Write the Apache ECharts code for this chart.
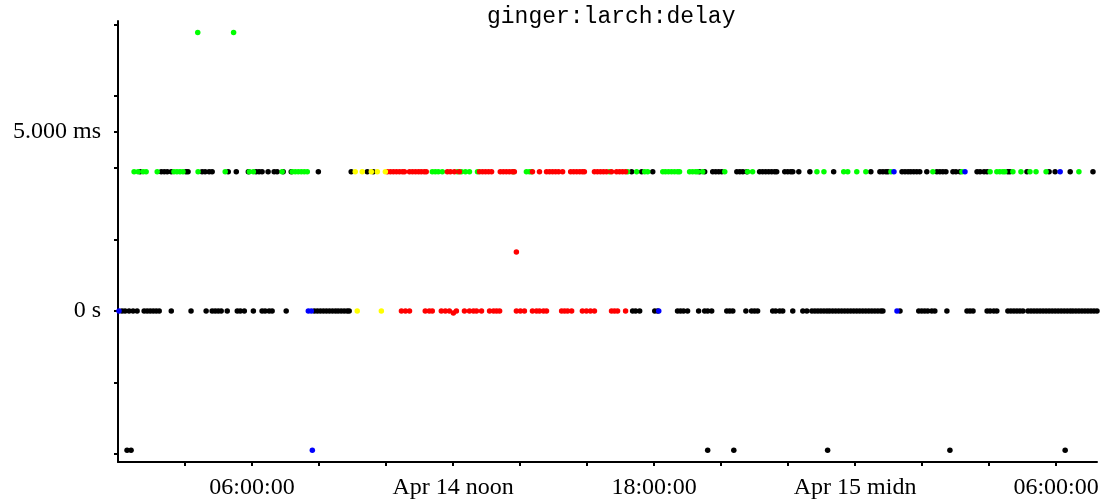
<!DOCTYPE html>
<html>
<head>
<meta charset="utf-8">
<title>ginger:larch:delay</title>
<script src="https://cdn.jsdelivr.net/npm/echarts@6/dist/echarts.min.js"></script>
<style>
  html, body { margin: 0; padding: 0; background: #fff; }
  #chart { width: 1102px; height: 503px; }
</style>
</head>
<body>
<div id="chart"></div>
<script>
// times are hours since Apr 14 00:00, delays are in ms
var upperRow = 3.89;
var zeroRow = 0;
var lowerRow = -3.89;

var blackUpper = [2.66, 3.29, 3.38, 3.47, 3.59, 4.03, 4.09, 4.51, 4.60, 4.72, 4.81, 5.29, 5.53, 5.89,
  6.12, 6.21, 6.30, 6.48, 6.66, 6.75, 6.93, 7.17, 7.98, 8.96, 9.44, 9.62,
  17.33, 17.63, 17.96, 19.36, 19.51, 19.75, 19.84, 19.93, 20.02, 20.47, 20.56, 20.65, 20.77,
  21.15, 21.24, 21.33, 21.42, 21.51, 21.60, 21.66, 21.90, 21.99, 22.08, 22.14, 22.32, 22.65,
  23.36, 24.47, 24.74, 24.83, 24.92, 24.98, 25.40, 25.49, 25.58, 25.66, 25.75, 25.84, 25.93,
  26.14, 26.44, 26.53, 26.62, 26.71, 26.92, 27.01, 27.13, 27.64, 27.73, 27.85, 27.94,
  28.56, 28.62, 29.13, 29.79, 29.97, 30.42, 31.10];
var blackZero = [2.12, 2.21, 2.33, 2.45, 2.57, 2.78, 2.87, 2.96, 3.05, 3.14, 3.23, 3.59, 4.18, 4.63,
  4.81, 4.90, 4.99, 5.08, 5.26, 5.56, 5.65, 5.77, 6.04, 6.30, 6.39, 6.51, 6.60, 7.02,
  7.86, 7.95, 8.04, 8.13, 8.22, 8.31, 8.40, 8.49, 8.57, 8.66, 8.75, 8.84, 8.90,
  17.36, 17.45, 17.57, 18.02, 18.11, 18.70, 18.79, 18.88, 19.00, 19.33, 19.51, 19.60, 19.72,
  20.17, 20.26, 20.35, 20.74, 20.91, 21.00, 21.09, 21.54, 21.63, 21.75, 21.84, 22.14, 22.44, 22.56,
  22.71, 22.80, 22.89, 22.98, 23.07, 23.16, 23.24, 23.33, 23.42, 23.51, 23.60, 23.69, 23.78,
  23.87, 23.96, 24.05, 24.14, 24.23, 24.32, 24.41, 24.50, 24.59, 24.68, 24.77, 24.83,
  25.34, 25.90, 25.99, 26.08, 26.17, 26.29, 26.38, 26.74, 27.34, 27.43, 27.52,
  27.94, 28.03, 28.14, 28.23, 28.56, 28.65, 28.74, 28.83, 28.92, 29.01,
  29.16, 29.25, 29.34, 29.43, 29.52, 29.61, 29.70, 29.79, 29.88, 29.97, 30.06, 30.15,
  30.24, 30.33, 30.42, 30.50, 30.59, 30.68, 30.77, 30.86, 30.95, 31.04, 31.13, 31.22];
var blackLower = [2.27, 2.39, 19.60, 20.38, 23.18, 26.83, 30.27];

var greenUpper = [2.48, 2.60, 2.75, 2.84, 3.17, 3.67, 3.76, 3.85, 3.94, 4.39, 5.20, 5.92, 6.04,
  6.90, 7.20, 7.29, 7.38, 7.47, 7.56, 7.65, 11.38, 11.47, 11.56, 11.68, 12.13, 12.25, 12.37,
  12.49, 12.73, 13.80, 14.19, 14.28, 14.34, 16.67, 17.21, 17.48, 17.72, 17.81,
  18.26, 18.34, 18.43, 18.52, 18.61, 18.70, 18.76, 19.06, 19.15, 19.24, 19.30, 19.45,
  20.11, 20.79, 20.94, 22.86, 23.07, 23.66, 23.78, 24.05, 24.32, 25.07, 26.32, 27.19,
  28.03, 28.23, 28.32, 28.41, 28.47, 28.71, 28.95, 29.22, 29.40, 29.70, 30.68];
var greenHigh = [[4.38, 7.78], [5.45, 7.78]];

var redUpper = [10.04, 10.13, 10.22, 10.31, 10.40, 10.49, 10.55, 10.70, 10.79, 10.88, 10.97,
  11.05, 11.14, 11.20, 11.83, 11.92, 12.04, 12.19, 12.79, 12.88, 12.97, 13.06, 13.15,
  13.41, 13.50, 13.59, 13.68, 13.77, 13.83, 14.37, 14.58, 14.79, 14.88, 14.97, 15.06, 15.15,
  15.27, 15.51, 15.60, 15.69, 15.78, 15.86, 15.92, 16.22, 16.31, 16.40, 16.49, 16.58,
  16.73, 16.88, 16.97, 17.06, 17.15];
var redZero = [10.46, 10.58, 10.70, 11.17, 11.29, 11.38, 11.65, 11.77, 11.89, 12.10, 12.34,
  12.49, 12.61, 12.70, 12.85, 13.09, 13.21, 13.30, 13.39, 13.89, 14.01, 14.13, 14.37,
  14.49, 14.58, 14.70, 14.79, 15.24, 15.33, 15.42, 15.54, 15.86, 15.98, 16.10, 16.22,
  16.73, 16.82, 16.91, 17.15];
var redOdd = [[13.89, 1.65], [12.01, -0.06]];

var yellowUpper = [9.08, 9.29, 9.56, 9.74, 9.98];
var yellowZero = [9.14, 9.86];

var blueUpper = [25.16, 27.28, 30.12];
var blueZero = [2.03, 7.68, 7.77, 18.14, 25.25];
var blueLower = [7.80];

var xTicks = [4, 6, 8, 10, 12, 14, 16, 18, 20, 22, 24, 26, 28, 30];
var xLabels = [6, 12, 18, 24, 30];
var xLabelText = { 6: '06:00:00', 12: 'Apr 14 noon', 18: '18:00:00', 24: 'Apr 15 midn', 30: '06:00:00' };
var yTicks = [-4, -2, 0, 2, 4, 5, 6, 8];
var yLabels = [0, 5];
var yLabelText = { 0: '0 s', 5: '5.000 ms' };

function row(times, level) {
  return times.map(function (t) { return [t, level]; });
}

var chart = echarts.init(document.getElementById('chart'), null, { renderer: 'canvas' });

var serifFont = 'Liberation Serif';

function dots(name, color, data) {
  return {
    name: name,
    type: 'scatter',
    symbol: 'circle',
    symbolSize: 5.5,
    itemStyle: { color: color, opacity: 1 },
    data: data,
    silent: true
  };
}

var option = {
  backgroundColor: '#fff',
  animation: false,
  title: {
    text: 'ginger:larch:delay',
    left: 482,
    top: 0,
    textStyle: {
      fontFamily: 'Liberation Mono',
      fontSize: 23,
      fontWeight: 'normal',
      color: '#000'
    }
  },
  grid: {
    left: 118,
    right: 5,
    top: 21,
    bottom: 41,
    containLabel: false
  },
  xAxis: {
    type: 'value',
    min: 2,
    max: 31.22,
    splitLine: { show: false },
    axisLine: { onZero: false, lineStyle: { color: '#000', width: 2 } },
    axisTick: {
      length: 4,
      lineStyle: { color: '#000', width: 2 },
      customValues: xTicks
    },
    axisLabel: {
      customValues: xLabels,
      margin: 14,
      fontFamily: serifFont,
      fontSize: 24,
      color: '#000',
      formatter: function (v) { return xLabelText[v] || ''; }
    }
  },
  yAxis: {
    type: 'value',
    min: -4.22,
    max: 8.1,
    splitLine: { show: false },
    axisLine: { onZero: false, lineStyle: { color: '#000', width: 2 } },
    axisTick: {
      length: 4,
      lineStyle: { color: '#000', width: 2 },
      customValues: yTicks
    },
    axisLabel: {
      customValues: yLabels,
      margin: 17,
      fontFamily: serifFont,
      fontSize: 24,
      color: '#000',
      formatter: function (v) { return yLabelText[v] || ''; }
    }
  },
  series: [
    dots('black', '#000000', row(blackUpper, upperRow).concat(row(blackZero, zeroRow), row(blackLower, lowerRow))),
    dots('green', '#00ff00', row(greenUpper, upperRow).concat(greenHigh)),
    dots('red', '#ff0000', row(redUpper, upperRow).concat(row(redZero, zeroRow), redOdd)),
    dots('yellow', '#ffff00', row(yellowUpper, upperRow).concat(row(yellowZero, zeroRow))),
    dots('blue', '#0000ff', row(blueUpper, upperRow).concat(row(blueZero, zeroRow), row(blueLower, lowerRow)))
  ]
};

chart.setOption(option);
</script>
</body>
</html>
